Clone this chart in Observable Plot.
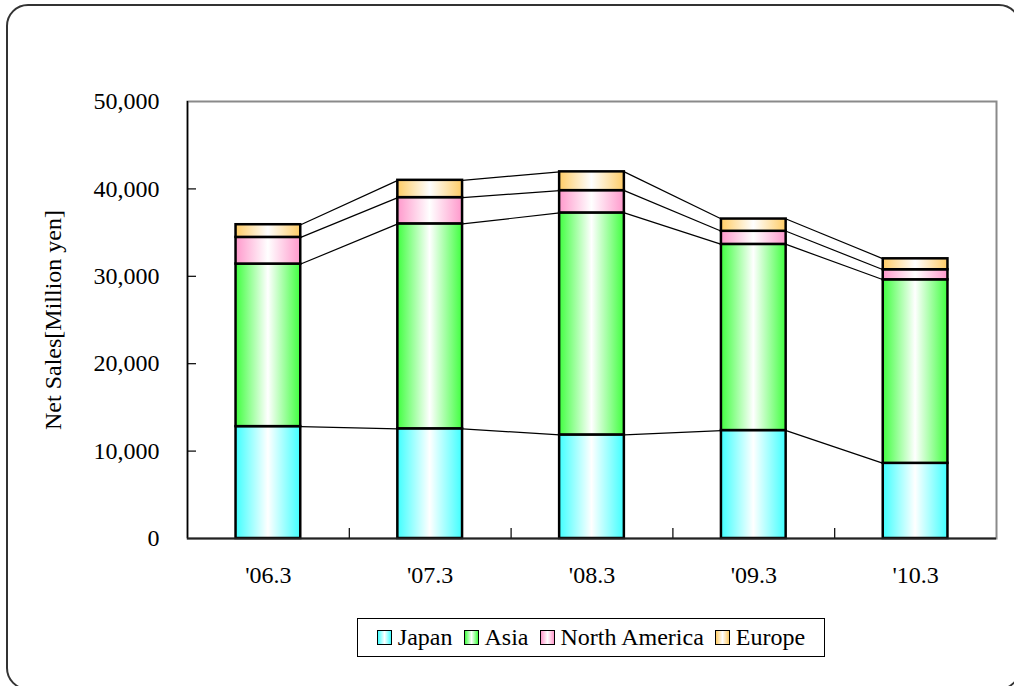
<!DOCTYPE html>
<html><head><meta charset="utf-8">
<script src="https://cdn.jsdelivr.net/npm/d3@7"></script>
<script src="https://cdn.jsdelivr.net/npm/@observablehq/plot@0.6"></script>
<style>
html,body{margin:0;padding:0;background:#fff;overflow:hidden;width:1014px;height:686px;}
#frame{position:absolute;left:6px;top:4px;width:1015px;height:686px;border:2px solid #333;border-radius:22px;box-sizing:border-box;}
#chart{position:absolute;left:0;top:0;}
#legend{position:absolute;left:357px;top:618px;width:468px;height:39px;box-sizing:border-box;border:1px solid #000;display:flex;align-items:center;justify-content:center;font-family:"Liberation Serif",serif;font-size:24px;gap:11px;background:#fff;}
.item{display:flex;align-items:center;}
.sw{width:13px;height:13px;border:1.5px solid #000;margin-right:6px;}
</style></head><body>
<div id="frame"></div><div id="chart"></div><div id="legend"></div>
<script>
const categories = ["'06.3", "'07.3", "'08.3", "'09.3", "'10.3"];
const seriesNames = ["Japan", "Asia", "North America", "Europe"];
const japan = [12800, 12550, 11850, 12350, 8600];
const asia = [18600, 23450, 25400, 21300, 21000];
const northAmerica = [3050, 3000, 2550, 1500, 1150];
const europe = [1450, 1980, 2150, 1400, 1250];
const yTicks = [0, 10000, 20000, 30000, 40000, 50000];
const colors = ["#40ffff", "#40ff40", "#ff99cc", "#ffcc66"];

const seriesValues = [japan, asia, northAmerica, europe];

// cumulative stacks
const rows = [];
const tops = seriesValues.map(() => []);
categories.forEach((cat, i) => {
  let base = 0;
  seriesValues.forEach((vals, k) => {
    const top = base + vals[i];
    rows.push({i, cat, series: seriesNames[k], k, y1: base, y2: top});
    tops[k][i] = top;
    base = top;
  });
});
const links = [];
tops.forEach((t, k) => {
  for (let i = 0; i < categories.length - 1; i++) {
    links.push({k, i, from: t[i], to: t[i + 1]});
  }
});

const W = 1014, H = 600, ML = 187, MR = 18, MT = 101, MB = 62;
const barPad = 0.3;

const plot = Plot.plot({
  width: W, height: H,
  marginLeft: ML, marginRight: MR, marginTop: MT, marginBottom: MB,
  style: {fontFamily: '"Liberation Serif", serif', fontSize: "24px", color: "#000", background: "transparent", overflow: "visible"},
  x: {type: "linear", domain: [0, categories.length]},
  y: {domain: [0, 50000]},
  marks: [
    Plot.frame({stroke: "#8a8a8a", strokeWidth: 2}),
    Plot.tickY(yTicks.slice(1, -1), {y: d => d, stroke: "#000", strokeWidth: 1.2, insetRight: W - ML - MR - 9}),
    Plot.tickX(d3.range(1, categories.length), {x: d => d, stroke: "#000", strokeWidth: 1.2, insetTop: H - MT - MB - 10}),
    Plot.link(links, {x1: d => d.i + 1 - barPad, y1: "from", x2: d => d.i + 1 + barPad, y2: "to", stroke: "#000", strokeWidth: 1.2}),
    ...seriesNames.map((name, k) => Plot.rect(rows.filter(r => r.k === k), {
      x1: d => d.i + barPad, x2: d => d.i + 1 - barPad, y1: "y1", y2: "y2",
      fill: `url(#grad${k})`, stroke: "#000", strokeWidth: 2.5
    })),
    Plot.ruleX([0], {stroke: "#000", strokeWidth: 1.5}),
    Plot.ruleY([0], {stroke: "#222", strokeWidth: 2}),
    Plot.axisY({ticks: yTicks, tickSize: 0, tickPadding: 28, tickFormat: d3.format(","),
      label: "Net Sales[Million yen]", labelAnchor: "center", labelOffset: 144, labelArrow: "none", fontSize: 24}),
    Plot.axisX({ticks: categories.map((c, i) => i + 0.5), tickSize: 0, tickPadding: 27,
      tickFormat: d => categories[Math.round(d - 0.5)], label: null, fontSize: 24})
  ]
});

const defs = d3.select(plot).insert("defs", ":first-child");
colors.forEach((c, k) => {
  const g = defs.append("linearGradient").attr("id", "grad" + k)
    .attr("x1", "0").attr("x2", "1").attr("y1", "0").attr("y2", "0");
  g.append("stop").attr("offset", "0%").attr("stop-color", c);
  g.append("stop").attr("offset", "50%").attr("stop-color", "#fff");
  g.append("stop").attr("offset", "100%").attr("stop-color", c);
});

document.getElementById("chart").appendChild(plot);

const legend = d3.select("#legend");
seriesNames.forEach((name, k) => {
  const item = legend.append("div").attr("class", "item");
  item.append("div").attr("class", "sw")
    .style("background", `linear-gradient(to right, ${colors[k]}, #fff 50%, ${colors[k]})`);
  item.append("span").text(name);
});
</script>
</body></html>
